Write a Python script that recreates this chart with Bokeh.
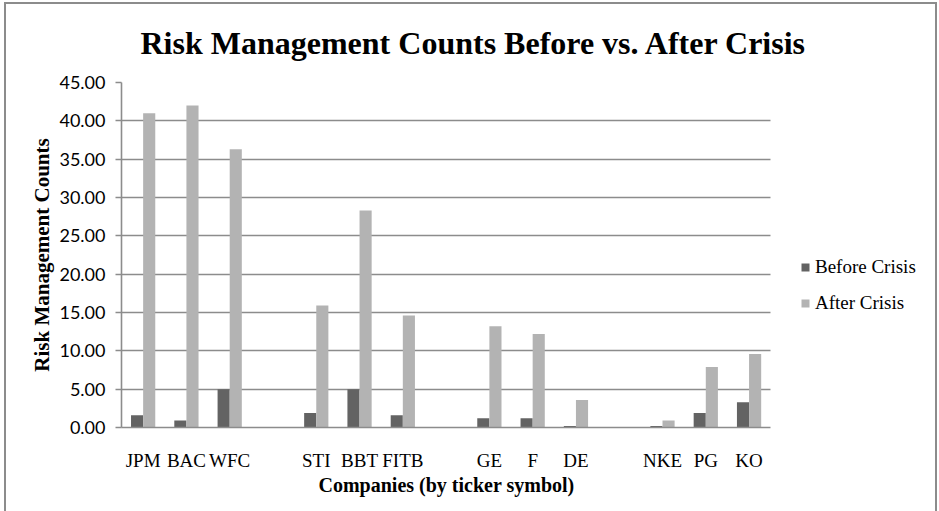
from bokeh.plotting import figure
from bokeh.models import (ColumnDataSource, Range1d, Legend, LegendItem,
                          Title, NumeralTickFormatter, FixedTicker)
from bokeh.transform import dodge
from bokeh.embed import file_html
from bokeh.resources import INLINE

# ---- data ----
# category slots along the x axis (blank slots separate the four industry groups)
slots = ["JPM", "BAC", "WFC", "", "STI", "BBT", "FITB", "", "GE", "F", "DE", "", "NKE", "PG", "KO"]
companies = ["JPM", "BAC", "WFC", "STI", "BBT", "FITB", "GE", "F", "DE", "NKE", "PG", "KO"]
before_crisis = [1.6, 0.9, 5.0, 1.9, 5.0, 1.6, 1.2, 1.2, 0.2, 0.2, 1.9, 3.3]
after_crisis = [41.0, 42.0, 36.3, 15.9, 28.3, 14.6, 13.2, 12.2, 3.6, 0.9, 7.9, 9.6]
y_ticks = [0, 5, 10, 15, 20, 25, 30, 35, 40, 45]

title_text = "Risk Management Counts Before vs. After Crisis"
x_title = "Companies (by ticker symbol)"
y_title = "Risk Management Counts"

positions = [slots.index(c) for c in companies]
src = ColumnDataSource(dict(pos=positions, name=companies, before=before_crisis, after=after_crisis))

SERIF = "Liberation Serif"
GRID = "#8c8c8c"
n_slots = len(slots)

p = figure(x_range=Range1d(-0.5, 18.4), y_range=Range1d(0, 45),
           width=933, height=509, output_backend="svg", toolbar_location=None,
           min_border_left=115, min_border_right=0, min_border_top=77, min_border_bottom=86,
           background_fill_color="white", border_fill_color="white",
           styles={"border-left": "2px solid #8c8c8c", "border-top": "2px solid #8c8c8c",
                   "border-right": "2px solid #8c8c8c", "margin-left": "4px", "margin-top": "2px"})
p.outline_line_color = None

r1 = p.vbar(x=dodge("pos", -0.14), top="before", width=0.28, source=src,
            fill_color="#636363", line_color=None)
r2 = p.vbar(x=dodge("pos", 0.14), top="after", width=0.28, source=src,
            fill_color="#b3b3b3", line_color=None)

p.xgrid.grid_line_color = None
p.ygrid.grid_line_color = GRID
p.ygrid.grid_line_width = 1.6
try:
    p.ygrid.cross_bounds = (-0.5, n_slots - 0.5)
except Exception:
    pass

ya = p.yaxis[0]
ya.ticker = FixedTicker(ticks=y_ticks)
ya.formatter = NumeralTickFormatter(format="0.00")
ya.axis_line_color = GRID
ya.axis_line_width = 1.6
ya.major_tick_line_color = GRID
ya.major_tick_line_width = 1.6
ya.major_tick_out = 6
ya.major_tick_in = 0
ya.minor_tick_line_color = None
ya.major_label_text_font = "Lato"
ya.major_label_text_font_size = "18px"
ya.major_label_text_color = "black"
ya.major_label_standoff = 10
ya.axis_label = y_title
ya.axis_label_text_font = SERIF
ya.axis_label_text_font_style = "bold"
ya.axis_label_text_font_size = "21px"
ya.axis_label_text_color = "black"
ya.axis_label_standoff = 2

xa = p.xaxis[0]
xa.ticker = FixedTicker(ticks=positions)
xa.major_label_overrides = {pos: name for pos, name in zip(positions, companies)}
xa.bounds = (-0.5, n_slots - 0.5)
xa.axis_line_color = GRID
xa.axis_line_width = 1.6
xa.major_tick_line_color = None
xa.major_tick_out = 0
xa.major_tick_in = 0
xa.minor_tick_line_color = None
xa.major_label_text_font = SERIF
xa.major_label_text_font_size = "19px"
xa.major_label_text_color = "black"
xa.major_label_standoff = 22

p.add_layout(Title(text=x_title, align="left", offset=197, standoff=0, vertical_align="top",
                   text_font=SERIF, text_font_style="bold", text_font_size="20px",
                   text_color="black"), "below")

p.title = Title(text=title_text, align="left", offset=19, standoff=40, vertical_align="top",
                text_font=SERIF, text_font_style="bold", text_font_size="32px",
                text_color="black")

legend = Legend(items=[LegendItem(label="Before Crisis", renderers=[r1]),
                       LegendItem(label="After Crisis", renderers=[r2])],
                location=(679, 113), glyph_width=10, glyph_height=10,
                label_text_font=SERIF, label_text_font_size="19px", label_text_color="black",
                label_standoff=5, spacing=14, padding=0, margin=0, label_height=20,
                border_line_color=None, background_fill_alpha=0)
p.add_layout(legend)

open("out.html", "w").write(file_html(p, INLINE))
